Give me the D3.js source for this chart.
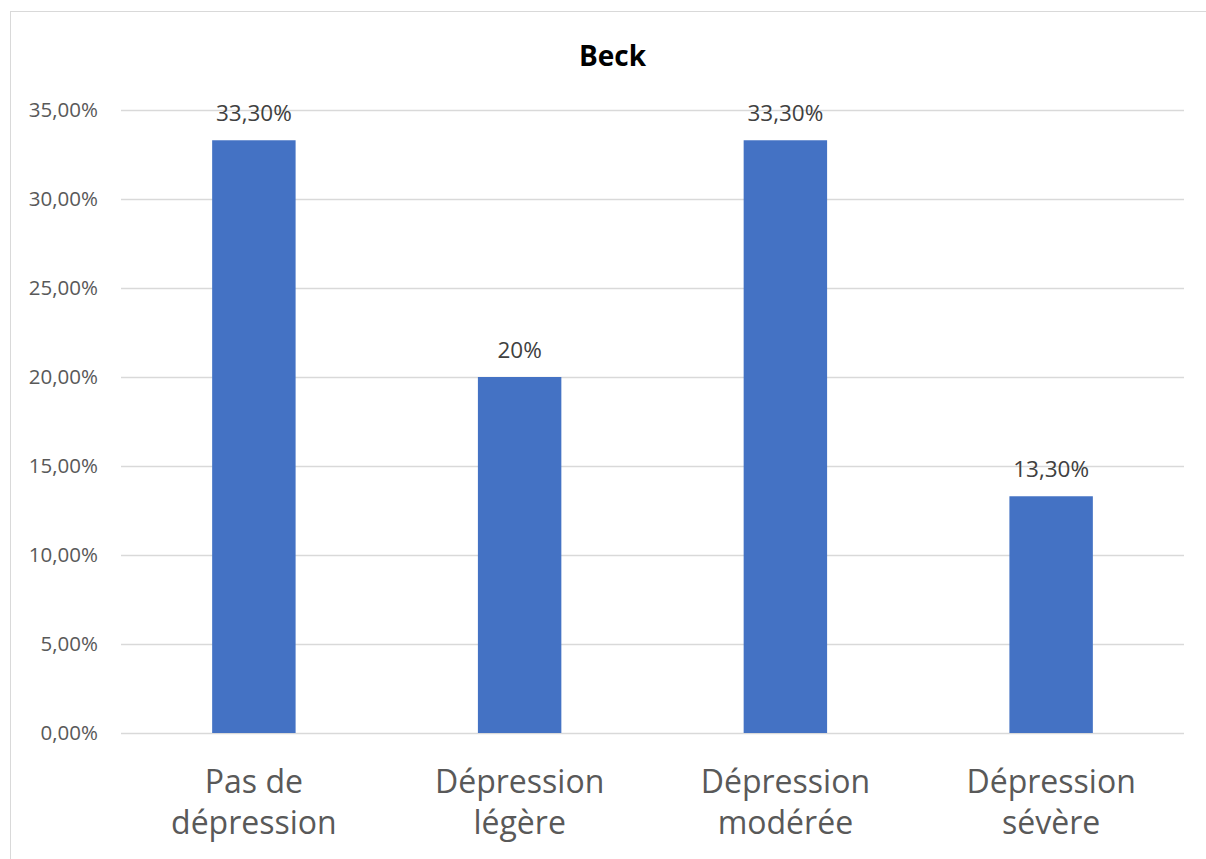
<!DOCTYPE html>
<html>
<head>
<meta charset="utf-8">
<script src="https://cdn.jsdelivr.net/npm/d3@7"></script>
<style>
  html, body { margin: 0; padding: 0; background: #fff; }
  svg { display: block; }
</style>
</head>
<body>
<svg id="chart" width="1206" height="859"></svg>
<script>
// Beck depression inventory: share of respondents per category
const categories = [["Pas de", "dépression"], ["Dépression", "légère"], ["Dépression", "modérée"], ["Dépression", "sévère"]];
const values = [0.333, 0.20, 0.333, 0.133];
const valueLabels = ["33,30%", "20%", "33,30%", "13,30%"];
const yTicks = [0, 0.05, 0.10, 0.15, 0.20, 0.25, 0.30, 0.35];
const title = "Beck";

const W = 1206, H = 859;
const margin = { left: 121, right: 22, top: 110, bottom: 126 };
const font = "'Open Sans', 'Noto Sans', sans-serif";

const svg = d3.select("#chart");

// chart frame
svg.append("rect")
  .attr("x", 10.5).attr("y", 11.5)
  .attr("width", W + 20).attr("height", H + 20)
  .attr("fill", "#fff").attr("stroke", "#d9d9d9").attr("stroke-width", 1);

const x = d3.scaleBand()
  .domain(d3.range(categories.length))
  .range([margin.left, W - margin.right])
  .paddingInner(0.686)
  .paddingOuter(0.343);

const y = d3.scaleLinear()
  .domain([0, 0.35])
  .range([H - margin.bottom, margin.top]);

// gridlines and value axis
const yAxis = d3.axisLeft(y)
  .tickValues(yTicks)
  .tickSize(-(W - margin.left - margin.right))
  .tickPadding(23)
  .tickFormat(d => (d * 100).toFixed(2).replace(".", ",") + "%");

const gy = svg.append("g")
  .attr("transform", `translate(${margin.left},0)`)
  .call(yAxis);
gy.select(".domain").remove();
gy.selectAll(".tick line").attr("stroke", "#d9d9d9").attr("stroke-width", 1.3);
gy.selectAll(".tick text")
  .attr("fill", "#595959")
  .style("font-family", font)
  .style("font-size", "20.5px");

// bars
svg.append("g").selectAll("rect")
  .data(values)
  .join("rect")
  .attr("x", (d, i) => x(i))
  .attr("y", d => y(d))
  .attr("width", x.bandwidth())
  .attr("height", d => y(0) - y(d))
  .attr("fill", "#4472c4");

// value labels
svg.append("g").selectAll("text")
  .data(values)
  .join("text")
  .attr("x", (d, i) => x(i) + x.bandwidth() / 2)
  .attr("y", d => y(d) - 19)
  .attr("text-anchor", "middle")
  .attr("fill", "#404040")
  .style("font-family", font)
  .style("font-size", "22.5px")
  .text((d, i) => valueLabels[i]);

// category labels (two lines each)
const xAxis = d3.axisBottom(x).tickSize(0).tickFormat(() => "");
const gx = svg.append("g")
  .attr("transform", `translate(0,${y(0)})`)
  .call(xAxis);
gx.select(".domain").remove();
gx.selectAll(".tick text").remove();
gx.selectAll(".tick").append("text")
  .attr("text-anchor", "middle")
  .attr("fill", "#595959")
  .style("font-family", font)
  .style("font-size", "32px")
  .selectAll("tspan")
  .data(i => categories[i])
  .join("tspan")
  .attr("x", 0)
  .attr("y", (d, j) => 60 + j * 41)
  .text(d => d);

// title
svg.append("text")
  .attr("x", (margin.left + W - margin.right) / 2 - 40)
  .attr("y", 66)
  .attr("text-anchor", "middle")
  .attr("fill", "#000")
  .style("font-family", font)
  .style("font-weight", "bold")
  .style("font-size", "28px")
  .text(title);
</script>
</body>
</html>
